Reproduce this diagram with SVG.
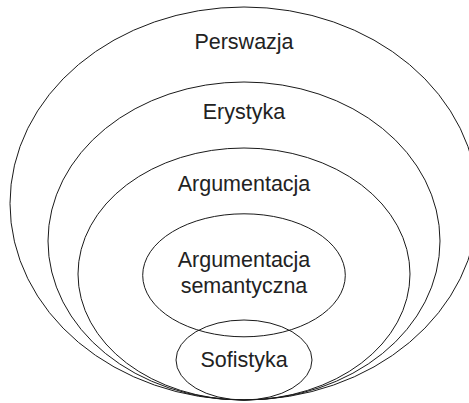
<svg xmlns="http://www.w3.org/2000/svg" width="469" height="403" viewBox="0 0 469 403">
  <style>
    .ring { fill: none; stroke: #1a1a1a; stroke-width: 1; }
    .label { font-family: "Liberation Sans", Arial, sans-serif; font-size: 21.5px; fill: #222; text-anchor: middle; }
  </style>
  <rect width="469" height="403" fill="#ffffff"/>
  <g id="perswazja">
    <ellipse class="ring" cx="244" cy="203.5" rx="234" ry="196.5"/>
    <text class="label" x="244" y="49">Perswazja</text>
  </g>
  <g id="erystyka">
    <ellipse class="ring" cx="244" cy="241" rx="196" ry="159"/>
    <text class="label" x="244" y="119">Erystyka</text>
  </g>
  <g id="argumentacja">
    <ellipse class="ring" cx="244" cy="274" rx="166" ry="126"/>
    <text class="label" x="244" y="191">Argumentacja</text>
  </g>
  <g id="argumentacja-semantyczna">
    <ellipse class="ring" cx="244" cy="275.3" rx="101.3" ry="61.5"/>
    <text class="label" x="244" y="267">Argumentacja</text>
    <text class="label" x="244" y="293">semantyczna</text>
  </g>
  <g id="sofistyka">
    <ellipse class="ring" cx="244" cy="360" rx="68" ry="40"/>
    <text class="label" x="244" y="367">Sofistyka</text>
  </g>
</svg>
